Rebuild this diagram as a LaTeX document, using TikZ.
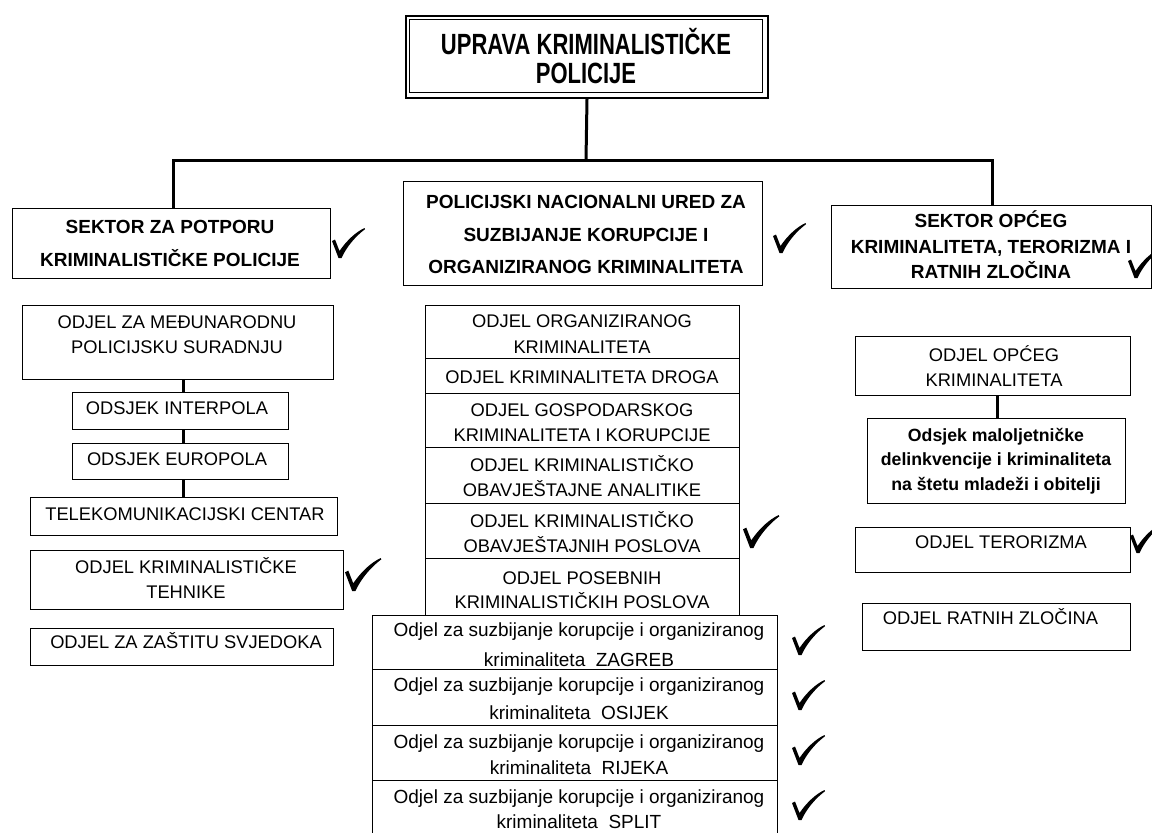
\documentclass[tikz,border=0pt]{standalone}
\usepackage{fontspec}
\setmainfont{Liberation Sans}
\begin{document}
\begin{tikzpicture}[x=1pt,y=-1pt,
  bx/.style={draw, line width=1.1pt, inner sep=0pt, anchor=north west},
  txt/.style={align=center, inner sep=0pt, anchor=base, font=\fontsize{18.3}{#1}\selectfont},
  txt/.default=25,
  hdr/.style={align=center, inner sep=0pt, anchor=base, font=\bfseries\fontsize{19}{#1}\selectfont},
  hdr/.default=33,
  low/.style={align=center, inner sep=0pt, anchor=base, font=\fontsize{19}{#1}\selectfont},
  low/.default=26,
  mal/.style={align=center, inner sep=0pt, anchor=base, font=\bfseries\fontsize{17.7}{#1}\selectfont},
  mal/.default=24.5,
  ln/.style={line width=3pt},
  chk/.pic={\fill (0,13) -- (3,11.5) -- (7.5,23) .. controls (15,12) and (24,4) .. (32.5,0) -- (33,1.2) .. controls (24,8) and (15,18) .. (9.5,30) -- (6.5,30) -- cycle;}
]
\useasboundingbox (0,0) rectangle (1152,833);
\fill[white] (0,0) rectangle (1152,833);

% top box
\node[draw, line width=2pt, inner sep=0pt, anchor=north west, minimum width=362pt, minimum height=82pt] (top) at (405,15) {};
\draw[line width=1pt] (409.5,19.5) rectangle (762.5,92.5);
\begin{scope}[shift={(586,83.5)}]
\node[transform shape, yscale=1.33, anchor=base, align=center, inner sep=0pt, font=\bfseries\fontsize{22}{22}\selectfont] (t-top) at (0,0) {UPRAVA KRIMINALISTIČKE\\POLICIJE};
\end{scope}

% headers
\node[bx, minimum width=318pt, minimum height=70pt] (lh) at (12,208) {};
\node[bx, minimum width=359pt, minimum height=104pt] (mh) at (403,181) {};
\node[bx, minimum width=320pt, minimum height=83pt] (rh) at (831,205) {};
\node[hdr=33] (t-lh) at (170,266.8) {SEKTOR ZA POTPORU\\KRIMINALISTIČKE POLICIJE};
\node[hdr=32.5] (t-mh) at (586,273.8) {POLICIJSKI NACIONALNI URED ZA\\SUZBIJANJE KORUPCIJE I\\ORGANIZIRANOG KRIMINALITETA};
\node[hdr=25.5] (t-rh) at (991,278.8) {SEKTOR OPĆEG\\KRIMINALITETA, TERORIZMA I\\RATNIH ZLOČINA};

% trunk connectors
\coordinate (jc) at (586,160);
\coordinate (jl) at (173,160);
\coordinate (jr) at (992,160);
\draw[ln] (top.south) -- (jc);
\draw[ln] (jl |- lh.north) -- (jl) -- (jr) -- (jr |- rh.north);

% left column
\node[bx, minimum width=311pt, minimum height=74pt] (mdj) at (22,305) {};
\node[bx, minimum width=216pt, minimum height=37pt] (int) at (72,392) {};
\node[bx, minimum width=216pt, minimum height=36pt] (eur) at (72,443) {};
\node[bx, minimum width=307pt, minimum height=38pt] (tel) at (30,497) {};
\node[bx, minimum width=313pt, minimum height=59pt] (teh) at (30,550) {};
\node[bx, minimum width=303pt, minimum height=37pt] (zas) at (30,628) {};
\coordinate (cl) at (183,0);
\draw[ln] (cl |- mdj.south) -- (cl |- int.north);
\draw[ln] (cl |- int.south) -- (cl |- eur.north);
\draw[ln] (cl |- eur.south) -- (cl |- tel.north);
\node[txt] (t-mdj) at (177,353.3) {ODJEL ZA MEĐUNARODNU\\POLICIJSKU SURADNJU};
\node[txt] (t-int) at (177,414.6) {ODSJEK INTERPOLA};
\node[txt] (t-eur) at (177,465.6) {ODSJEK EUROPOLA};
\node[txt] (t-tel) at (185,520.6) {TELEKOMUNIKACIJSKI CENTAR};
\node[txt] (t-teh) at (186,598.6) {ODJEL KRIMINALISTIČKE\\TEHNIKE};
\node[txt] (t-zas) at (186,648.6) {ODJEL ZA ZAŠTITU SVJEDOKA};

% middle stack
\node[bx, minimum width=314pt, minimum height=53pt] (org) at (425,305) {};
\node[bx, minimum width=314pt, minimum height=35pt] (drg) at (425,358) {};
\node[bx, minimum width=314pt, minimum height=54pt] (gos) at (425,393) {};
\node[bx, minimum width=314pt, minimum height=56pt] (ana) at (425,447) {};
\node[bx, minimum width=314pt, minimum height=55pt] (obp) at (425,503) {};
\node[bx, minimum width=314pt, minimum height=57pt] (pos) at (425,558) {};
\node[txt=25.7] (t-org) at (582,353.3) {ODJEL ORGANIZIRANOG\\KRIMINALITETA};
\node[txt] (t-drg) at (582,383.3) {ODJEL KRIMINALITETA DROGA};
\node[txt] (t-gos) at (582,441.6) {ODJEL GOSPODARSKOG\\KRIMINALITETA I KORUPCIJE};
\node[txt] (t-ana) at (582,496.6) {ODJEL KRIMINALISTIČKO\\OBAVJEŠTAJNE ANALITIKE};
\node[txt] (t-obp) at (582,552.6) {ODJEL KRIMINALISTIČKO\\OBAVJEŠTAJNIH POSLOVA};
\node[txt=24] (t-pos) at (582,608.3) {ODJEL POSEBNIH\\KRIMINALISTIČKIH POSLOVA};

% bottom stack
\node[bx, minimum width=405pt, minimum height=54pt] (zg) at (372,615) {};
\node[bx, minimum width=405pt, minimum height=56pt] (os) at (372,669) {};
\node[bx, minimum width=405pt, minimum height=55pt] (ri) at (372,725) {};
\node[bx, minimum width=405pt, minimum height=56pt] (st) at (372,780) {};
\node[low=30] (t-zg) at (579,666.8) {Odjel za suzbijanje korupcije i organiziranog\\kriminaliteta\ \ ZAGREB};
\node[low=28] (t-os) at (579,719.8) {Odjel za suzbijanje korupcije i organiziranog\\kriminaliteta\ \ OSIJEK};
\node[low=26.5] (t-ri) at (579,774.8) {Odjel za suzbijanje korupcije i organiziranog\\kriminaliteta\ \ RIJEKA};
\node[low=25] (t-st) at (579,828.5) {Odjel za suzbijanje korupcije i organiziranog\\kriminaliteta\ \ SPLIT};

% right column
\node[bx, minimum width=275pt, minimum height=59pt] (opc) at (855,336) {};
\node[bx, minimum width=258pt, minimum height=85pt] (mal) at (867,418) {};
\node[bx, minimum width=275pt, minimum height=45pt] (ter) at (855,527) {};
\node[bx, minimum width=268pt, minimum height=47pt] (rat) at (862,603) {};
\coordinate (cr) at (997,0);
\draw[ln] (cr |- opc.south) -- (cr |- mal.north);
\node[txt] (t-opc) at (994,386.6) {ODJEL OPĆEG\\KRIMINALITETA};
\node[mal] (t-mal) at (996,490.4) {Odsjek maloljetničke\\delinkvencije i kriminaliteta\\na štetu mladeži i obitelji};
\node[txt] (t-ter) at (1001,548.3) {ODJEL TERORIZMA};
\node[txt] (t-rat) at (990.5,624.6) {ODJEL RATNIH ZLOČINA};

% check marks
\pic at (332,228) {chk};
\pic at (773,223) {chk};
\pic at (1128,248) {chk};
\pic[scale=1.1] at (345,558) {chk};
\pic[scale=1.1] at (743,515) {chk};
\pic at (792,625) {chk};
\pic at (792,680) {chk};
\pic at (792,735) {chk};
\pic at (792,790) {chk};
\pic at (1130,523) {chk};
\end{tikzpicture}
\end{document}
